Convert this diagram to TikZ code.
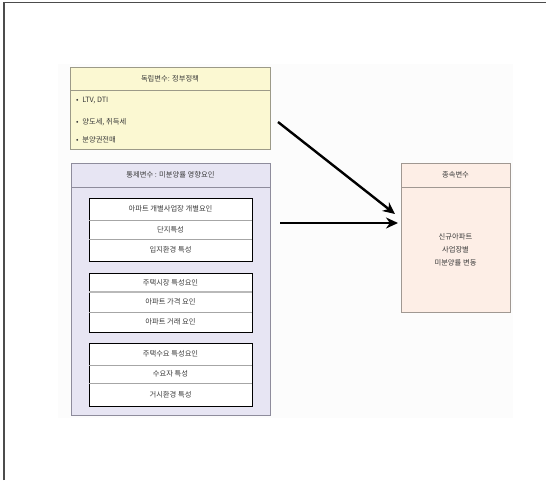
\documentclass[tikz,border=0pt]{standalone}
\usepackage{fontspec}
\setmainfont{Noto Sans CJK KR}
\usetikzlibrary{arrows.meta}
\definecolor{yel}{HTML}{FBF8D2}
\definecolor{yelb}{HTML}{9C9A88}
\definecolor{pur}{HTML}{E7E5F3}
\definecolor{purb}{HTML}{8E8C9C}
\definecolor{pnk}{HTML}{FDEEE6}
\definecolor{pnkb}{HTML}{A09892}
\definecolor{txt}{HTML}{3A3A3A}
\tikzset{
  panel/.style={draw=#1, line width=0.9pt, anchor=north west, inner sep=0pt},
  rowbox/.style={draw=black, line width=1.4pt, fill=white, anchor=north west, minimum width=163pt, inner sep=0pt},
  sep/.style={draw=gray!70, line width=0.8pt},
  lbl/.style={text=txt, font=\fontsize{7.3}{9}\selectfont, inner sep=0pt},
  arr/.style={draw=black, line width=2.4pt, -{Stealth[length=12pt,width=11pt]}},
}
\begin{document}
\begin{tikzpicture}[x=1pt,y=-1pt]
\useasboundingbox (0,0) rectangle (546,480);
% outer frame (top and left edges)
\draw[line width=1.8pt, draw=black!70] (4,480) -- (4,2.5) -- (546,2.5);
% faint background
\fill[gray!2] (58,64) rectangle (513,418);
% independent variable panel
\node[panel=yelb, fill=yel, minimum width=200pt, minimum height=82pt] (indep) at (70,67) {};
\draw[sep, draw=yelb] (70,90) -- (270,90);
\node[lbl] (indeph) at (170,78.5) {독립변수: 정부정책};
\node[lbl, anchor=west] (b1) at (76,101) {•\enspace LTV, DTI};
\node[lbl, anchor=west] (b2) at (76,122) {•\enspace 양도세, 취득세};
\node[lbl, anchor=west] (b3) at (76,140) {•\enspace 분양권전매};
% control variable panel
\node[panel=purb, fill=pur, minimum width=199pt, minimum height=252pt] (ctrl) at (71,163) {};
\draw[sep, draw=purb] (71,187) -- (270,187);
\node[lbl] (ctrlh) at (170.5,175) {통제변수 : 미분양률 영향요인};
% inner group 1
\node[rowbox, minimum height=63pt] (g1) at (89,198) {};
\draw[sep] (89,220) -- (252,220);
\draw[sep] (89,239) -- (252,239);
\node[lbl] (g1a) at (170.5,209) {아파트 개별사업장 개별요인};
\node[lbl] (g1b) at (170.5,229.5) {단지특성};
\node[lbl] (g1c) at (170.5,250) {입지환경 특성};
% inner group 2
\node[rowbox, minimum height=59pt] (g2) at (89,273) {};
\draw[sep, line width=1.6pt, draw=gray!55] (89,292) -- (252,292);
\draw[sep] (89,312) -- (252,312);
\node[lbl] (g2a) at (170.5,282.5) {주택시장 특성요인};
\node[lbl] (g2b) at (170.5,302) {아파트 가격 요인};
\node[lbl] (g2c) at (170.5,322) {아파트 거래 요인};
% inner group 3
\node[rowbox, minimum height=63pt] (g3) at (89,343) {};
\draw[sep] (89,365) -- (252,365);
\draw[sep] (89,383) -- (252,383);
\node[lbl] (g3a) at (170.5,354) {주택수요 특성요인};
\node[lbl] (g3b) at (170.5,374) {수요자 특성};
\node[lbl] (g3c) at (170.5,394.5) {거시환경 특성};
% dependent variable panel
\node[panel=pnkb, fill=pnk, minimum width=109pt, minimum height=149pt] (dep) at (401,163) {};
\draw[sep, draw=pnkb] (401,187) -- (510,187);
\node[lbl] (deph) at (455.5,175) {종속변수};
\node[lbl, align=center] (dept) at (455.5,250) {신규아파트\\[4pt]사업장별\\[4pt]미분양률 변동};
% arrows
\coordinate (a1s) at (278,122);
\coordinate (a1e) at (395,214);
\coordinate (a2s) at (280,223);
\coordinate (a2e) at (398,223);
\draw[arr] (a1s) -- (a1e);
\draw[arr] (a2s) -- (a2e);
\end{tikzpicture}
\end{document}
